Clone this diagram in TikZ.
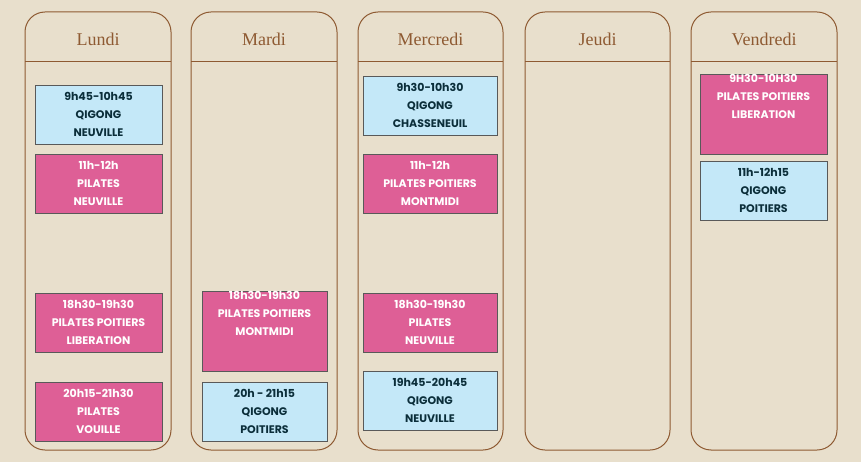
\documentclass[tikz,border=0pt]{standalone}
\usepackage{fontspec}
\setmainfont{Poppins}
\newfontfamily\headfont{Liberation Serif}
\begin{document}
\begin{tikzpicture}[x=1pt,y=-1pt,
  col/.style={draw=brd,line width=1pt,rounded corners=20pt},
  slot/.style={draw=gray!70!black,line width=0.4pt,font=\fontsize{11}{18}\selectfont\bfseries,align=center,inner sep=0pt},
  pk/.style={slot,fill=pinkc,text=white},
  bl/.style={slot,fill=bluec,text=bluet},
  hd/.style={font=\headfont\fontsize{18}{20}\selectfont,text=brd}]
\definecolor{bg}{HTML}{E8DFCC}
\definecolor{brd}{HTML}{8E5A32}
\definecolor{pinkc}{HTML}{DE5F96}
\definecolor{bluec}{HTML}{C4E8F8}
\definecolor{bluet}{HTML}{0B2E3A}
\fill[bg] (0,0) rectangle (861,462);
\useasboundingbox (0,0) rectangle (861,462);
\foreach \n/\a/\b/\t in {c1/25/171/Lundi,c2/191/337/Mardi,c3/358/503/Mercredi,c4/525/670/Jeudi,c5/691/837/Vendredi}{
  \draw[col] (\a,12) rectangle (\b,450);
  \draw[brd,line width=1pt] (\a,62) -- (\b,62);
  \node[hd] (\n) at ({(\a+\b)/2},39) {\t};
}
\newcommand\slotbox[7]{\node[#2,minimum width={#5-#4},minimum height={#7-#6}] (#1) at ({(#4+#5)/2},{(#6+#7)/2}) {#3};}
\slotbox{l1}{bl}{9h45-10h45\\QIGONG\\NEUVILLE}{35}{162}{85}{144}
\slotbox{l2}{pk}{11h-12h\\PILATES\\NEUVILLE}{35}{162}{154}{213}
\slotbox{l3}{pk}{18h30-19h30\\PILATES POITIERS\\LIBERATION}{35}{162}{293}{352}
\slotbox{l4}{pk}{20h15-21h30\\PILATES\\VOUILLE}{35}{162}{382}{441}
\slotbox{m1}{pk}{18h30-19h30\\PILATES POITIERS\\MONTMIDI\\[18pt]}{202}{327}{293}{370}
\slotbox{m2}{bl}{20h - 21h15\\QIGONG\\POITIERS}{202}{327}{382}{441}
\slotbox{w1}{bl}{9h30-10h30\\QIGONG\\CHASSENEUIL}{363}{497}{76}{135}
\slotbox{w2}{pk}{11h-12h\\PILATES POITIERS\\MONTMIDI}{363}{497}{154}{213}
\slotbox{w3}{pk}{18h30-19h30\\PILATES\\NEUVILLE}{363}{497}{293}{352}
\slotbox{w4}{bl}{19h45-20h45\\QIGONG\\NEUVILLE}{363}{497}{371}{430}
\slotbox{v1}{pk}{9H30-10H30\\PILATES POITIERS\\LIBERATION\\[18pt]}{700}{827}{76}{153}
\slotbox{v2}{bl}{11h-12h15\\QIGONG\\POITIERS}{700}{827}{161}{220}
\end{tikzpicture}
\end{document}
